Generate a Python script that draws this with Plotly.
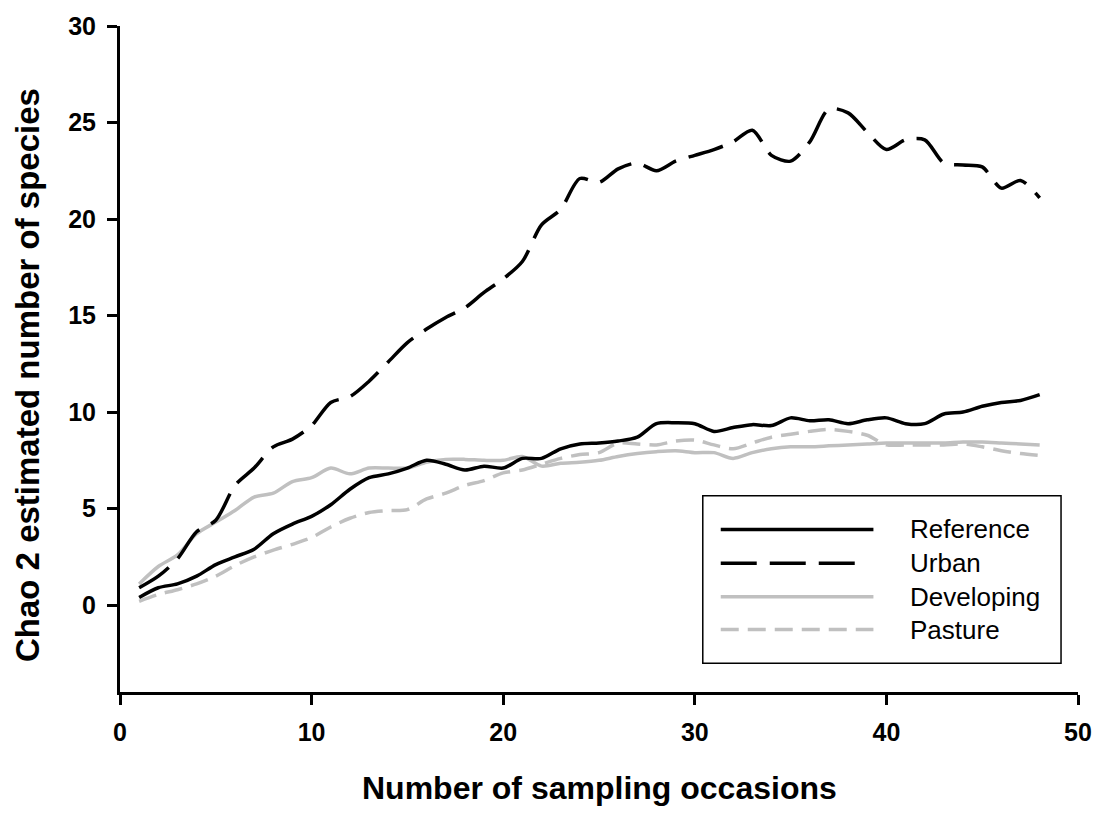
import plotly.graph_objects as go

occasions = list(range(1, 49))

reference = [0.4, 0.9, 1.1, 1.5, 2.1, 2.5, 2.9, 3.7, 4.2, 4.6,
             5.2, 6.0, 6.6, 6.8, 7.1, 7.5, 7.3, 7.0, 7.2, 7.1,
             7.6, 7.6, 8.1, 8.35, 8.4, 8.5, 8.7, 9.4, 9.45, 9.4,
             9.0, 9.2, 9.35, 9.3, 9.7, 9.55, 9.6, 9.4, 9.6, 9.7,
             9.4, 9.4, 9.9, 10.0, 10.3, 10.5, 10.6, 10.9]

urban = [0.9, 1.5, 2.4, 3.8, 4.4, 6.2, 7.1, 8.2, 8.6, 9.3,
         10.5, 10.8, 11.6, 12.6, 13.6, 14.3, 14.9, 15.4, 16.2, 16.9,
         17.8, 19.7, 20.5, 22.1, 21.9, 22.6, 22.9, 22.5, 23.0, 23.3,
         23.6, 24.0, 24.6, 23.3, 23.0, 24.0, 25.7, 25.5, 24.5, 23.6,
         24.1, 24.1, 22.9, 22.8, 22.7, 21.6, 22.0, 21.1]

developing = [1.1, 2.0, 2.6, 3.7, 4.3, 4.9, 5.6, 5.8, 6.4, 6.6,
              7.1, 6.8, 7.1, 7.1, 7.1, 7.4, 7.55, 7.55, 7.5, 7.5,
              7.7, 7.2, 7.35, 7.4, 7.5, 7.7, 7.85, 7.95, 8.0, 7.9,
              7.9, 7.6, 7.9, 8.1, 8.2, 8.2, 8.25, 8.3, 8.35, 8.4,
              8.4, 8.4, 8.4, 8.45, 8.45, 8.4, 8.35, 8.3]

pasture = [0.2, 0.55, 0.8, 1.1, 1.5, 2.05, 2.5, 2.85, 3.15, 3.5,
           4.05, 4.5, 4.8, 4.9, 4.95, 5.5, 5.8, 6.2, 6.45, 6.85,
           7.0, 7.3, 7.6, 7.8, 7.9, 8.4, 8.35, 8.3, 8.5, 8.55,
           8.3, 8.1, 8.4, 8.7, 8.85, 9.0, 9.1, 9.0, 8.8, 8.3,
           8.3, 8.3, 8.3, 8.35, 8.2, 8.0, 7.85, 7.75]

series_names = ["Reference", "Urban", "Developing", "Pasture"]
x_ticks = [0, 10, 20, 30, 40, 50]
y_ticks = [0, 5, 10, 15, 20, 25, 30]

BLACK = "black"
GREY = "rgb(192,192,192)"
FONT = "Liberation Sans, Arial, sans-serif"

styles = {
    "Reference": dict(color=BLACK, dash="solid", width=3.5),
    "Urban": dict(color=BLACK, dash="36px,13px", width=3.5),
    "Developing": dict(color=GREY, dash="solid", width=3.5),
    "Pasture": dict(color=GREY, dash="18px,9px", width=3.5),
}
data = {"Reference": reference, "Urban": urban, "Developing": developing, "Pasture": pasture}

fig = go.Figure()
for name in ["Pasture", "Developing", "Reference", "Urban"]:
    st = styles[name]
    fig.add_trace(go.Scatter(
        x=occasions, y=data[name], mode="lines", name=name, showlegend=False,
        line=dict(color=st["color"], dash=st["dash"], width=st["width"],
                  shape="spline", smoothing=0.8),
    ))

# plot area geometry (pixels)
L, R, T, B = 120, 1080, 20, 692
W, H = R - L, B - T

def px(x):
    return (x - L) / W

def py(y):
    return (B - y) / H

shapes = []
annotations = []
# custom legend box
shapes.append(dict(type="rect", xref="paper", yref="paper",
                   x0=px(704), x1=px(1063), y0=py(663), y1=py(494),
                   line=dict(color="black", width=1.5), fillcolor="white", layer="above"))
rows = [528, 562, 596, 629]
for name, ry in zip(series_names, rows):
    st = styles[name]
    x_end = 860 if name == "Urban" else 875
    shapes.append(dict(type="line", xref="paper", yref="paper",
                       x0=px(722), x1=px(x_end), y0=py(ry), y1=py(ry),
                       line=dict(color=st["color"], dash=st["dash"], width=st["width"]),
                       layer="above"))
    annotations.append(dict(text=name, xref="paper", yref="paper",
                            x=px(910), y=py(ry), xanchor="left", yanchor="middle",
                            showarrow=False,
                            font=dict(family=FONT, size=26, color="black")))

# axis titles
annotations.append(dict(text="Number of sampling occasions", xref="paper", yref="paper",
                        x=px(600), y=py(789), xanchor="center", yanchor="middle",
                        showarrow=False,
                        font=dict(family=FONT, size=32, color="black", weight="bold")))
annotations.append(dict(text="Chao 2 estimated number of species", xref="paper", yref="paper",
                        x=px(28), y=py(372), xanchor="center", yanchor="middle",
                        textangle=-90, showarrow=False,
                        font=dict(family=FONT, size=33, color="black", weight="bold")))

fig.update_layout(
    width=1104, height=814,
    margin=dict(l=L, r=1104 - R, t=T, b=814 - B),
    paper_bgcolor="white", plot_bgcolor="white",
    shapes=shapes, annotations=annotations,
    showlegend=False,
)
fig.update_xaxes(
    range=[0, 50], tickvals=x_ticks, showgrid=False, zeroline=False,
    showline=True, linecolor="black", linewidth=3,
    ticks="outside", ticklen=10, tickwidth=3, tickcolor="black",
    tickfont=dict(family=FONT, size=25, color="black", weight="bold"),
    ticklabelstandoff=6,
)
fig.update_yaxes(
    range=[-4.5, 30], tickvals=y_ticks, showgrid=False, zeroline=False,
    showline=True, linecolor="black", linewidth=3,
    ticks="outside", ticklen=10, tickwidth=3, tickcolor="black",
    tickfont=dict(family=FONT, size=25, color="black", weight="bold"),
    ticklabelstandoff=6,
)

fig.write_html("out.html")
